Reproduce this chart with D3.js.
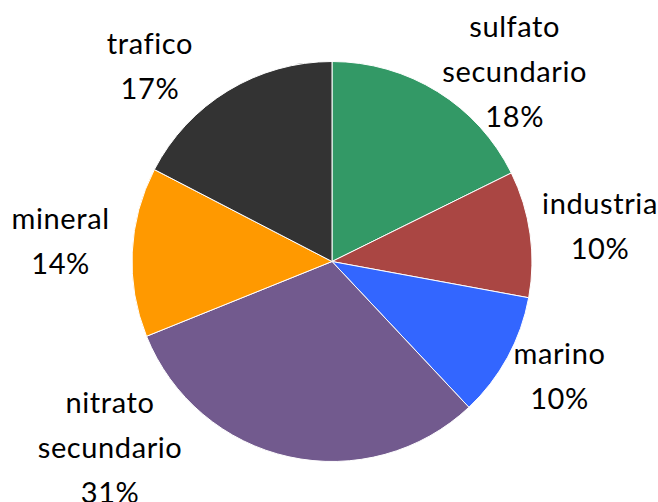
<!DOCTYPE html>
<html>
<head>
<meta charset="utf-8">
<script src="https://cdn.jsdelivr.net/npm/d3@7"></script>
<style>
  body { margin: 0; background: #fff; }
  svg text { font-family: Lato, "Open Sans", sans-serif; font-size: 29px; letter-spacing: 0.6px; fill: #000; }
</style>
</head>
<body>
<svg width="658" height="502"></svg>
<script>
// pie data, clockwise from 12 o'clock (shares in %)
var categories = ["sulfato secundario", "industria", "marino", "nitrato secundario", "mineral", "trafico"];
var values = [17.7, 10.2, 10.1, 30.9, 13.7, 17.4];
var colors = ["#339966", "#AA4643", "#3366FF", "#725A8E", "#FF9900", "#333333"];

// label lines (as shown in the chart)
var labelLines = [["sulfato", "secundario"], ["industria"], ["marino"], ["nitrato", "secundario"], ["mineral"], ["trafico"]];
// label placement: angle (deg from top, clockwise) and distance from the centre
var labelAngle = [44.2, 83, 117.3, 229.7, 273.7, 316.6];
var labelDist = [262, 270, 256, 291, 272, 265];

var cx = 332, cy = 261.5, radius = 200;
var lineGap = 45;

var svg = d3.select("svg");
var g = svg.append("g").attr("transform", "translate(" + cx + "," + cy + ")");

var pie = d3.pie().sort(null).value(function(d){ return d; });
var arc = d3.arc().innerRadius(0).outerRadius(radius);
var arcs = pie(values);
var total = d3.sum(values);

g.selectAll("path.slice").data(arcs).enter().append("path")
    .attr("class", "slice")
    .attr("d", arc)
    .attr("fill", function(d, i){ return colors[i]; })
    .attr("stroke", "#fff")
    .attr("stroke-width", 1);

var labels = g.selectAll("g.label").data(arcs).enter().append("g")
    .attr("class", "label")
    .attr("transform", function(d, i){
        var a = labelAngle[i] * Math.PI / 180;
        return "translate(" + (labelDist[i] * Math.sin(a)) + "," + (-labelDist[i] * Math.cos(a)) + ")";
    });

labels.each(function(d, i){
    var lines = labelLines[i].concat([Math.round(values[i] / total * 100) + "%"]);
    var n = lines.length;
    var el = d3.select(this);
    lines.forEach(function(t, k){
        el.append("text")
            .attr("text-anchor", "middle")
            .attr("x", 0)
            .attr("y", 8 + (k - (n - 1) / 2) * lineGap)
            .text(t);
    });
});
</script>
</body>
</html>
